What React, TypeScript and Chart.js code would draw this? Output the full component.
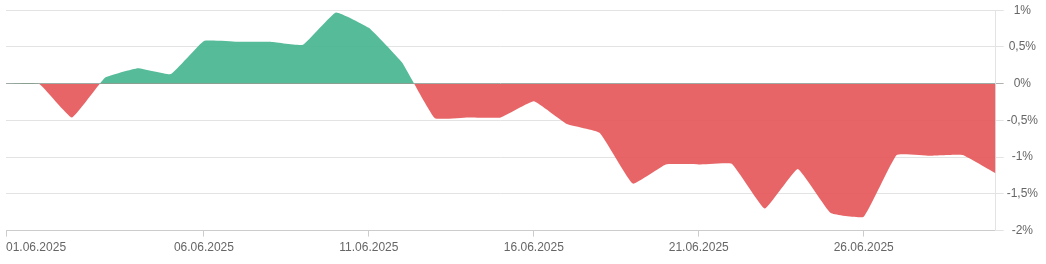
import React, { useEffect, useRef } from "react";
import { Chart, registerables } from "chart.js";

Chart.register(...registerables);

const categories: string[] = [
  "01.06.2025", "01.06.2025", "02.06.2025", "03.06.2025", "04.06.2025", "05.06.2025",
  "06.06.2025", "07.06.2025", "08.06.2025", "09.06.2025", "10.06.2025", "11.06.2025",
  "12.06.2025", "13.06.2025", "14.06.2025", "15.06.2025", "16.06.2025", "17.06.2025",
  "18.06.2025", "19.06.2025", "20.06.2025", "21.06.2025", "22.06.2025", "23.06.2025",
  "24.06.2025", "25.06.2025", "26.06.2025", "27.06.2025", "28.06.2025", "29.06.2025",
  "30.06.2025",
];

const values: number[] = [
  0, 0, -0.46, 0.08, 0.21, 0.13, 0.58, 0.57, 0.57, 0.53, 0.97, 0.76, 0.29,
  -0.47, -0.46, -0.46, -0.24, -0.55, -0.67, -1.36, -1.1, -1.1, -1.09, -1.7,
  -1.16, -1.76, -1.81, -0.97, -0.98, -0.97, -1.22,
];

const labeledTickIndices: number[] = [0, 6, 11, 16, 21, 26];

const yMin = -2;
const yMax = 1;
const yStep = 0.5;

export default function App() {
  const ref = useRef<HTMLCanvasElement | null>(null);

  useEffect(() => {
    if (!ref.current) return;
    const chart = new Chart(ref.current, {
      type: "line",
      data: {
        labels: categories,
        datasets: [
          {
            data: values,
            borderWidth: 0,
            borderColor: "rgba(0,0,0,0)",
            pointRadius: 0,
            tension: 0.1,
            fill: {
              target: "origin",
              above: "rgba(67,180,142,0.9)",
              below: "rgba(230,84,86,0.9)",
            },
          },
        ],
      },
      options: {
        animation: false,
        responsive: false,
        maintainAspectRatio: false,
        layout: { padding: { left: 6, right: 5, top: 3, bottom: 5 } },
        plugins: { legend: { display: false }, tooltip: { enabled: false } },
        scales: {
          x: {
            type: "category",
            offset: false,
            grid: {
              drawOnChartArea: false,
              drawTicks: true,
              tickLength: 6,
              color: (ctx: any) =>
                labeledTickIndices.includes(ctx.index) ? "#cccccc" : "rgba(0,0,0,0)",
            },
            border: { display: true, color: "#cccccc" },
            ticks: {
              autoSkip: false,
              maxRotation: 0,
              minRotation: 0,
              align: "inner",
              padding: 4,
              color: "#666666",
              font: { family: "'Liberation Sans', Arial, sans-serif", size: 12 },
              callback: (_v: any, i: number) =>
                labeledTickIndices.includes(i) ? categories[i] : "",
            },
          },
          y: {
            position: "right",
            min: yMin,
            max: yMax,
            grid: {
              color: (ctx: any) =>
                ctx.tick && ctx.tick.value === 0 ? "#b0b0b0" : "#e3e3e3",
              tickLength: 8,
            },
            border: { display: true, color: "#e3e3e3" },
            ticks: {
              stepSize: yStep,
              crossAlign: "center",
              padding: 3,
              color: "#666666",
              font: { family: "'Liberation Sans', Arial, sans-serif", size: 12 },
              callback: (v: any) => String(v).replace(".", ",") + "%",
            },
          },
        },
      },
    });
    return () => chart.destroy();
  }, []);

  return (
    <div style={{ position: "absolute", left: 0, top: 0, width: 1046, height: 264 }}>
      <canvas ref={ref} width={1046} height={264} style={{ width: 1046, height: 264 }} />
    </div>
  );
}
